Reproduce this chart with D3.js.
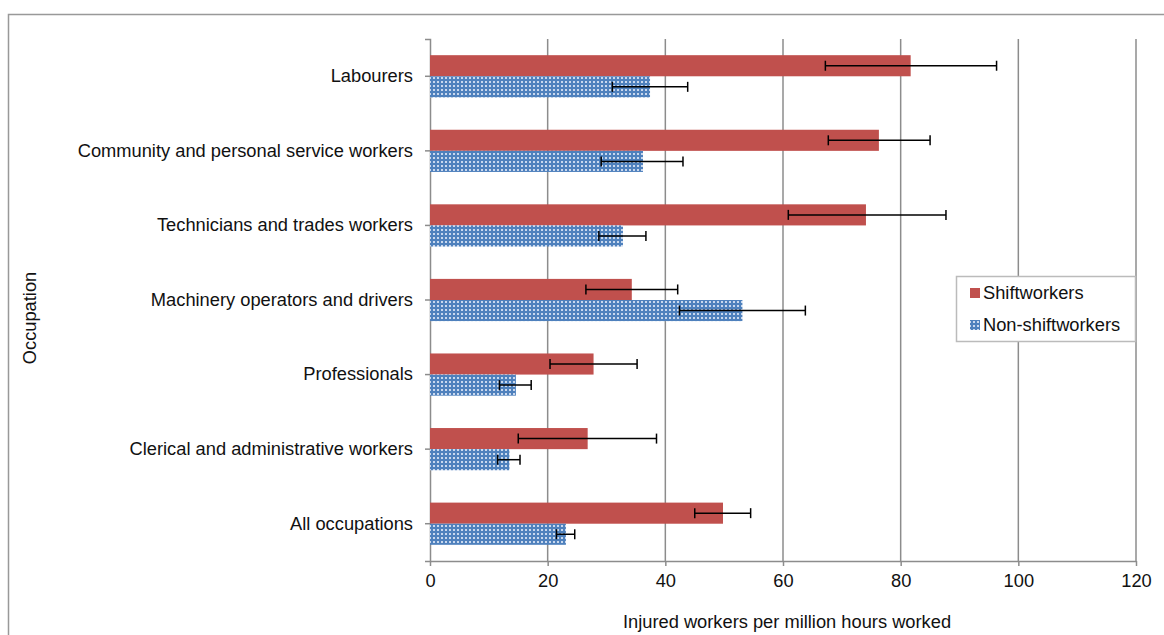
<!DOCTYPE html>
<html>
<head>
<meta charset="utf-8">
<script src="https://cdn.jsdelivr.net/npm/d3@7"></script>
<style>
  html, body { margin: 0; padding: 0; background: #fff; }
  svg { display: block; font-family: "Liberation Sans", Arial, sans-serif; }
</style>
</head>
<body>
<svg id="chart" width="1164" height="635"></svg>
<script>
const categories = [
  "Labourers",
  "Community and personal service workers",
  "Technicians and trades workers",
  "Machinery operators and drivers",
  "Professionals",
  "Clerical and administrative workers",
  "All occupations"
];
const seriesNames = ["Shiftworkers", "Non-shiftworkers"];
const shiftValues = [81.7, 76.3, 74.1, 34.3, 27.8, 26.8, 49.8];
const shiftLow    = [67.2, 67.7, 60.9, 26.5, 20.4, 15.0, 45.0];
const shiftHigh   = [96.3, 85.0, 87.7, 42.1, 35.2, 38.5, 54.5];
const nonShiftValues = [37.4, 36.2, 32.8, 53.1, 14.6, 13.5, 23.1];
const nonShiftLow    = [31.0, 29.1, 28.7, 42.4, 11.8, 11.5, 21.5];
const nonShiftHigh   = [43.8, 43.0, 36.7, 63.8, 17.2, 15.3, 24.6];
const xTicks = [0, 20, 40, 60, 80, 100, 120];
const xTitle = "Injured workers per million hours worked";
const yTitle = "Occupation";

const colors = { red: "#c0504d", blue: "#4f81bd", grid: "#8c8c8c" };
const FS = 18.3;

const svg = d3.select("#chart");

// pattern for non-shiftworkers
const defs = svg.append("defs");
const pat = defs.append("pattern").attr("id", "dots")
  .attr("patternUnits", "userSpaceOnUse").attr("width", 4).attr("height", 4);
pat.append("rect").attr("width", 4).attr("height", 4).attr("fill", colors.blue);
pat.append("rect").attr("x", 1).attr("y", 1).attr("width", 2).attr("height", 2).attr("fill", "#c9d8ee");

// outer frame
svg.append("path")
  .attr("d", "M8.5,640 V14.5 H1170")
  .attr("fill", "none").attr("stroke", "#999").attr("stroke-width", 1.5);

const pLeft = 430, pRight = 1136, pTop = 39, pBottom = 561;
const x = d3.scaleLinear().domain([0, 120]).range([pLeft, pRight]);
const y = d3.scaleBand().domain(categories).range([pTop, pBottom]).padding(0);
const barH = y.step() * 0.283;

// gridlines
svg.append("g").selectAll("line").data(xTicks.filter(d => d > 0)).join("line")
  .attr("x1", d => x(d)).attr("x2", d => x(d)).attr("y1", pTop).attr("y2", pBottom)
  .attr("stroke", colors.grid).attr("stroke-width", 1.5);

// x axis
const xAxis = svg.append("g").attr("transform", `translate(0,${pBottom})`)
  .call(d3.axisBottom(x).tickValues(xTicks).tickSize(5).tickSizeOuter(0).tickPadding(8));
xAxis.select(".domain").attr("stroke", colors.grid).attr("stroke-width", 1.5);
xAxis.selectAll(".tick line").attr("stroke", colors.grid).attr("stroke-width", 1.5);
xAxis.selectAll(".tick text").attr("font-size", FS).attr("fill", "#111")
  .attr("font-family", "Liberation Sans, Arial, sans-serif");

// y axis
const yAxis = svg.append("g").attr("transform", `translate(${pLeft},0)`)
  .call(d3.axisLeft(y).tickSize(5).tickSizeOuter(5).tickPadding(12));
yAxis.select(".domain").attr("stroke", colors.grid).attr("stroke-width", 1.5);
yAxis.selectAll(".tick line").attr("stroke", colors.grid).attr("stroke-width", 1.5);
yAxis.selectAll(".tick text").attr("font-size", FS).attr("fill", "#111")
  .attr("font-family", "Liberation Sans, Arial, sans-serif");

const center = c => y(c) + y.bandwidth() / 2;

// bars
const shiftData = categories.map((c, i) => ({ c, v: shiftValues[i], lo: shiftLow[i], hi: shiftHigh[i] }));
const nonData = categories.map((c, i) => ({ c, v: nonShiftValues[i], lo: nonShiftLow[i], hi: nonShiftHigh[i] }));

svg.append("g").selectAll("rect").data(shiftData).join("rect")
  .attr("x", x(0)).attr("y", d => center(d.c) - barH)
  .attr("width", d => x(d.v) - x(0)).attr("height", barH)
  .attr("fill", colors.red);

svg.append("g").selectAll("rect").data(nonData).join("rect")
  .attr("x", x(0)).attr("y", d => center(d.c))
  .attr("width", d => x(d.v) - x(0)).attr("height", barH)
  .attr("fill", "url(#dots)");

// error bars
function errorBars(data, offset) {
  const g = svg.append("g").attr("stroke", "#000").attr("stroke-width", 1.5);
  data.forEach(d => {
    const cy = center(d.c) + offset;
    g.append("line").attr("x1", x(d.lo)).attr("x2", x(d.hi)).attr("y1", cy).attr("y2", cy);
    g.append("line").attr("x1", x(d.lo)).attr("x2", x(d.lo)).attr("y1", cy - 5).attr("y2", cy + 5);
    g.append("line").attr("x1", x(d.hi)).attr("x2", x(d.hi)).attr("y1", cy - 5).attr("y2", cy + 5);
  });
}
errorBars(shiftData, -barH / 2);
errorBars(nonData, barH / 2);

// axis titles
svg.append("text").attr("x", (pLeft + pRight) / 2 + 4).attr("y", 628)
  .attr("text-anchor", "middle").attr("font-size", FS).attr("fill", "#111").text(xTitle);
svg.append("text").attr("transform", "translate(36,318) rotate(-90)")
  .attr("text-anchor", "middle").attr("font-size", FS).attr("fill", "#111").text(yTitle);

// legend
const lg = svg.append("g");
lg.append("rect").attr("x", 956.5).attr("y", 276.5).attr("width", 179).attr("height", 65)
  .attr("fill", "#fff").attr("stroke", "#bbb").attr("stroke-width", 1.5);
const legendFills = [colors.red, "url(#dots)"];
seriesNames.forEach((name, i) => {
  const yy = 288 + i * 32;
  lg.append("rect").attr("x", 970).attr("y", yy).attr("width", 10).attr("height", 10).attr("fill", legendFills[i]);
  lg.append("text").attr("x", 983).attr("y", yy + 5).attr("dy", "0.35em")
    .attr("font-size", FS).attr("fill", "#111").text(name);
});
</script>
</body>
</html>
